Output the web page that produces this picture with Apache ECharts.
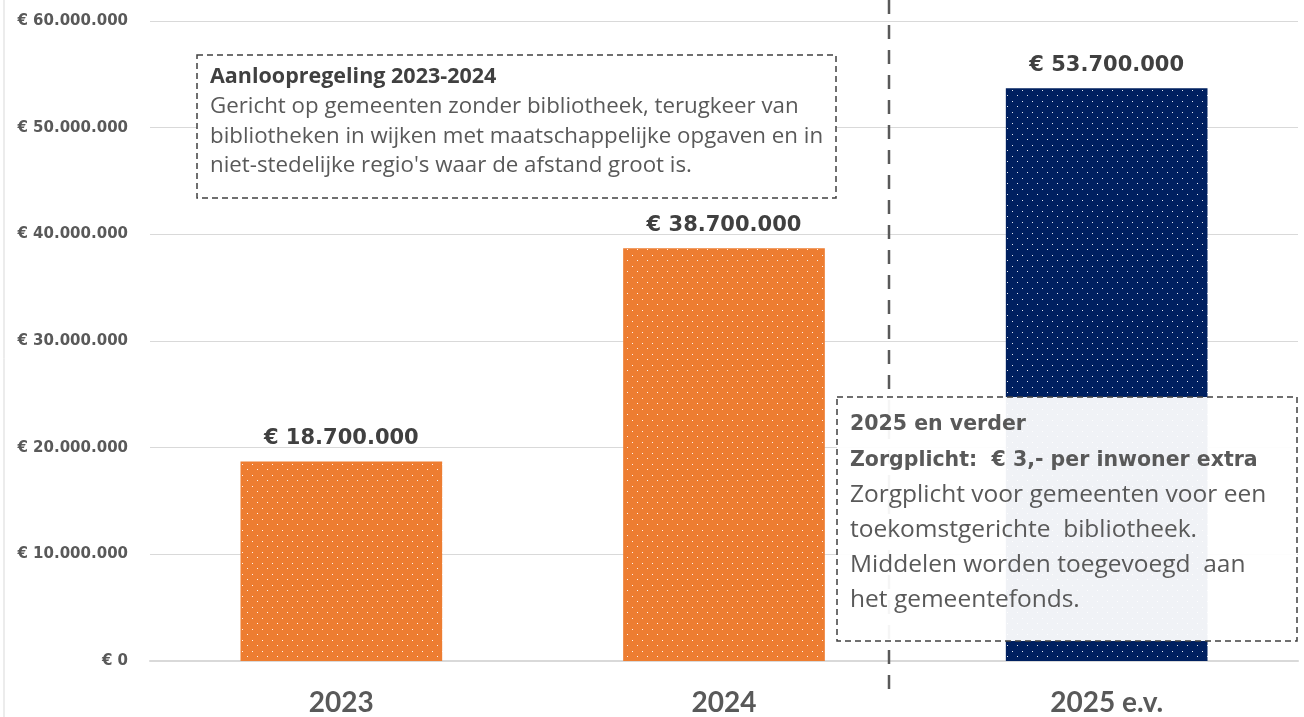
<!DOCTYPE html>
<html lang="nl">
<head>
    <meta charset="UTF-8">
    <title>Bibliotheken budget</title>
    <script type="text/javascript" src="https://cdn.jsdelivr.net/npm/echarts@6/dist/echarts.min.js"></script>
    <style>
        html, body { margin: 0; padding: 0; background: #fff; }
    </style>
</head>
<body>
<div id="main" style="width:1304px;height:717px;"></div>
<script>
    const categories = ['2023', '2024', '2025 e.v.'];
    const values = [18700000, 38700000, 53700000];
    const barColors = ['#ED7D31', '#ED7D31', '#002060'];
    const yTicks = [0, 10000000, 20000000, 30000000, 40000000, 50000000, 60000000];

    const note1Title = 'Aanloopregeling 2023-2024';
    const note1Lines = [
        'Gericht op gemeenten zonder bibliotheek, terugkeer van',
        'bibliotheken in wijken met maatschappelijke opgaven en in',
        "niet-stedelijke regio's waar de afstand groot is."
    ];
    const note2Title = ['2025 en verder', 'Zorgplicht:  € 3,- per inwoner extra'];
    const note2Lines = [
        'Zorgplicht voor gemeenten voor een',
        'toekomstgerichte  bibliotheek.',
        'Middelen worden toegevoegd  aan',
        'het gemeentefonds.'
    ];

    // punt-patroon voor de balken
    function dotPattern(base) {
        let c = document.createElement('canvas');
        c.width = 10;
        c.height = 11;
        let ctx = c.getContext('2d');
        ctx.fillStyle = base;
        ctx.fillRect(0, 0, 10, 11);
        ctx.fillStyle = 'rgba(255,255,255,0.9)';
        ctx.fillRect(2, 2, 1, 1);
        ctx.fillRect(7, 7, 1, 1);
        return { image: c, repeat: 'repeat' };
    }

    function euro(v) {
        return '€ ' + String(Math.round(v)).replace(/\B(?=(\d{3})+(?!\d))/g, '.');
    }

    let myChart = echarts.init(document.getElementById('main'));

    let option = {
        backgroundColor: '#fff',
        animation: false,
        grid: {
            left: 150,
            right: 6,
            top: 21,
            bottom: 55
        },
        xAxis: {
            type: 'category',
            data: categories,
            axisLine: { lineStyle: { color: '#d9d9d9', width: 2 } },
            axisTick: { show: false },
            axisLabel: {
                color: '#595959',
                fontFamily: 'Lato',
                fontWeight: 'bold',
                fontSize: 28,
                margin: 28
            }
        },
        yAxis: {
            type: 'value',
            min: yTicks[0],
            max: yTicks[yTicks.length - 1],
            interval: yTicks[1] - yTicks[0],
            axisLine: { show: false },
            axisTick: { show: false },
            splitLine: { lineStyle: { color: '#d9d9d9', width: 1 } },
            axisLabel: {
                color: '#595959',
                fontFamily: 'DejaVu Sans',
                fontWeight: 'bold',
                fontSize: 15,
                margin: 22,
                formatter: euro
            }
        },
        series: [{
            type: 'bar',
            barWidth: '52.7%',
            data: values.map((v, i) => ({
                value: v,
                itemStyle: { color: dotPattern(barColors[i]) }
            })),
            label: {
                show: true,
                position: 'top',
                distance: 12,
                color: '#404040',
                fontFamily: 'DejaVu Sans',
                fontWeight: 'bold',
                fontSize: 21,
                formatter: p => euro(p.value)
            }
        }],
        graphic: {
            elements: [
                {
                    type: 'line',
                    z: 100,
                    shape: { x1: 4, y1: 0, x2: 4, y2: 717 },
                    style: { stroke: '#d9d9d9', lineWidth: 1 }
                },
                {
                    type: 'line',
                    z: 100,
                    shape: { x1: 889, y1: 0, x2: 889, y2: 700 },
                    style: { stroke: '#595959', lineWidth: 2.5, lineDash: [14, 11] }
                },
                {
                    type: 'rect',
                    z: 101,
                    shape: { x: 197, y: 55, width: 639, height: 143 },
                    style: { fill: '#fff', stroke: '#404040', lineWidth: 1.5, lineDash: [6, 4] }
                },
                {
                    type: 'text',
                    z: 102,
                    x: 210,
                    y: 77,
                    style: {
                        text: note1Title,
                        fill: '#404040',
                        font: 'bold 21.5px "Open Sans"',
                        verticalAlign: 'middle'
                    }
                },
                {
                    type: 'text',
                    z: 102,
                    x: 210,
                    y: 92,
                    style: {
                        text: note1Lines.join('\n'),
                        fill: '#595959',
                        font: '22.3px "Open Sans"',
                        lineHeight: 29.5
                    }
                },
                {
                    type: 'rect',
                    z: 101,
                    shape: { x: 837, y: 397, width: 460, height: 244 },
                    style: { fill: 'rgba(255,255,255,0.94)', stroke: '#404040', lineWidth: 1.5, lineDash: [6, 4] }
                },
                {
                    type: 'text',
                    z: 102,
                    x: 850,
                    y: 407,
                    style: {
                        text: note2Title.join('\n'),
                        fill: '#595959',
                        font: 'bold 20.5px "DejaVu Sans"',
                        lineHeight: 35.5
                    }
                },
                {
                    type: 'text',
                    z: 102,
                    x: 850,
                    y: 477.5,
                    style: {
                        text: note2Lines.join('\n'),
                        fill: '#595959',
                        font: '24.5px "Open Sans"',
                        lineHeight: 35
                    }
                }
            ]
        }
    };

    myChart.setOption(option);
</script>
</body>
</html>
